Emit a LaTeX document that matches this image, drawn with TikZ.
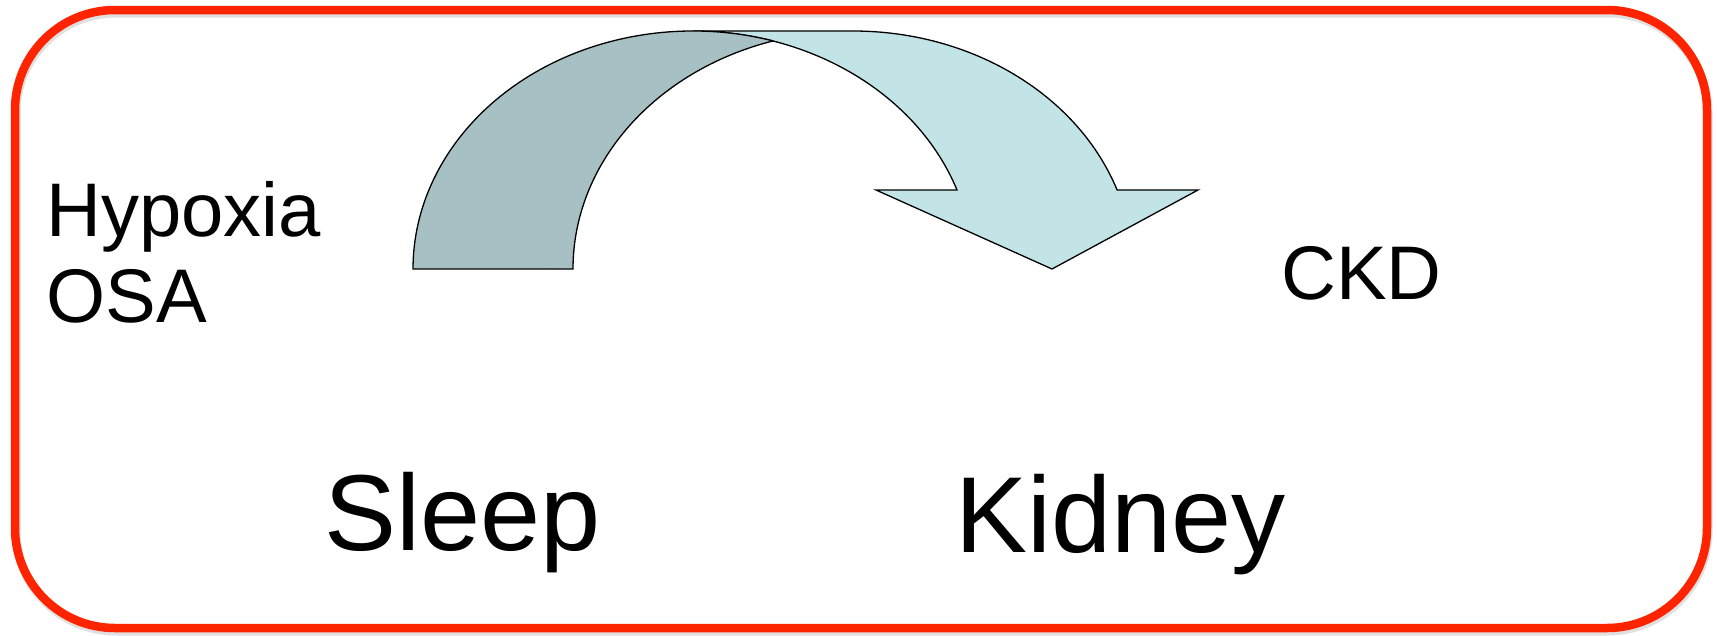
\documentclass[tikz,border=0pt]{standalone}
\usepackage{fontspec}
\setmainfont{Liberation Sans}
\definecolor{framered}{RGB}{255,36,0}
\definecolor{bandlight}{RGB}{195,228,231}
\definecolor{banddark}{RGB}{167,192,195}
\tikzset{
  band/.style={draw=black, line width=1.3pt, line join=miter},
  label/.style={inner sep=0pt, text=black},
  small/.style={label, font=\fontsize{76}{86}\selectfont},
  big/.style={label, font=\fontsize{108}{120}\selectfont},
}
\begin{document}
\begin{tikzpicture}[x=1pt,y=1pt]
\useasboundingbox (0,0) rectangle (1717,-635);
% frame shadow and frame
\draw[line width=9pt, black, opacity=0.12, rounded corners=100pt] (16,-13) rectangle (1708,-631);
\draw[line width=8.5pt, framered, rounded corners=100pt] (15,-10) rectangle (1707,-628);
% curved arrow: front (light) band
\filldraw[band, fill=bandlight] (1052,-269) -- (876,-190) -- (957,-190)
  arc[start angle=19.4, end angle=90, x radius=280pt, y radius=238pt]
  -- (853,-31)
  arc[start angle=90, end angle=19.4, x radius=280pt, y radius=238pt]
  -- (1198,-190) -- cycle;
% back (dark) band
\filldraw[band, fill=banddark] (773,-40.9)
  arc[start angle=73.4, end angle=180, x radius=280pt, y radius=238pt]
  -- (573,-269)
  arc[start angle=180, end angle=106.6, x radius=280pt, y radius=238pt]
  -- cycle;
% texts
\node[small, anchor=north west, align=left] (hyp) at (46,-181) {Hypoxia\\OSA};
\node[small, anchor=base west] (ckd) at (1281,-299) {CKD};
\node[big, anchor=base west] (sleep) at (324,-550) {Sleep};
\node[big, anchor=base west] (kidney) at (955,-552) {Kidney};
\end{tikzpicture}
\end{document}
